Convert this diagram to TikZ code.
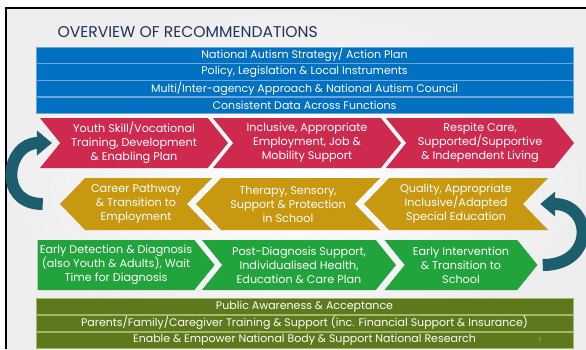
\documentclass[tikz,border=0pt]{standalone}
\usepackage{fontspec}
\setmainfont{Poppins}
\usetikzlibrary{shapes.symbols, positioning, arrows.meta}
\definecolor{BarBlue}{RGB}{0,112,192}
\definecolor{BarLine}{RGB}{110,165,220}
\definecolor{ChevRed}{RGB}{206,42,80}
\definecolor{ChevGold}{RGB}{200,152,16}
\definecolor{ChevGreen}{RGB}{34,164,60}
\definecolor{BarOlive}{RGB}{92,122,28}
\definecolor{OliveLine}{RGB}{160,185,110}
\definecolor{LoopTeal}{RGB}{28,94,110}
\definecolor{TitleBlue}{RGB}{34,50,90}
\definecolor{Paper}{RGB}{238,238,238}

\begin{document}
\begin{tikzpicture}[x=1pt, y=-1pt]
		\tikzstyle{Bar} = [rectangle, minimum width=537pt, minimum height=16.3pt, inner sep=0pt, text=white, font=\fontsize{11}{11}\selectfont]
		\tikzstyle{BlueBar} = [Bar, fill=BarBlue, draw=BarLine, line width=0.4pt]
		\tikzstyle{OliveBar} = [Bar, fill=BarOlive, draw=OliveLine, line width=0.4pt]
		\tikzstyle{Chev} = [signal, signal to=east, signal from=west, signal pointer angle=102, minimum height=50pt, inner sep=0pt, align=center, text=white, font=\fontsize{11.2}{14}\selectfont]
		\tikzstyle{BackChev} = [Chev, signal to=west, signal from=east, signal pointer angle=92, minimum height=52pt]
		\tikzstyle{Loop} = [line width=12pt, draw=LoopTeal, -{Triangle[width=24pt, length=15pt]}]
		
		% page
		\clip (0,0) rectangle (586,349);
		\fill[white] (0,0) rectangle (586,349);
		\shade[inner color=white, outer color=Paper] (6,8) rectangle (586,349);
		\draw[black, line width=1.5pt] (6,349) -- (6,8) -- (586,8);
		
		\node (title) [anchor=west, text=TitleBlue, font=\fontsize{15.6}{16}\selectfont] at (54,32) {OVERVIEW OF RECOMMENDATIONS};
		
		% top bars
		\node (b1) [BlueBar] at (304.5,55) {National Autism Strategy/ Action Plan};
		\node (b2) [BlueBar, below=0pt of b1] {Policy, Legislation \& Local Instruments};
		\node (b3) [BlueBar, below=0pt of b2] {Multi/Inter-agency Approach \& National Autism Council};
		\node (b4) [BlueBar, below=0pt of b3] {Consistent Data Across Functions};
		
		% red row
		\node (r1) [Chev, fill=ChevRed, minimum width=188pt] at (134,143) {Youth Skill/Vocational\\Training, Development\\\& Enabling Plan};
		\node (r2) [Chev, fill=ChevRed, minimum width=188pt] at (307,143) {Inclusive, Appropriate\\Employment, Job \&\\Mobility Support};
		\node (r3) [Chev, fill=ChevRed, minimum width=188pt] at (480,143) {Respite Care,\\Supported/Supportive\\\& Independent Living};
		
		% gold row
		\node (y1) [BackChev, fill=ChevGold, minimum width=152pt] at (136,204) {Career Pathway\\\& Transition to\\Employment};
		\node (y2) [BackChev, fill=ChevGold, minimum width=184pt] at (288,204) {Therapy, Sensory,\\Support \& Protection\\in School};
		\node (y3) [BackChev, fill=ChevGold, minimum width=184pt] at (456,204) {Quality, Appropriate\\Inclusive/Adapted\\Special Education};
		
		% green row
		\node (g1) [Chev, fill=ChevGreen, signal from=nowhere, minimum width=177pt] at (116,265) {Early Detection \& Diagnosis\\(also Youth \& Adults), Wait\\Time for Diagnosis};
		\node (g2) [Chev, fill=ChevGreen, minimum width=194pt] at (299,265) {Post-Diagnosis Support,\\Individualised Health,\\Education \& Care Plan};
		\node (g3) [Chev, fill=ChevGreen, minimum width=153pt] at (461,265) {Early Intervention\\\& Transition to\\School};
		
		% bottom bars
		\node (o1) [OliveBar] at (304.5,306.5) {Public Awareness \& Acceptance};
		\node (o2) [OliveBar, below=0pt of o1] {Parents/Family/Caregiver Training \& Support (inc. Financial Support \& Insurance)};
		\node (o3) [OliveBar, below=0pt of o2] {Enable \& Empower National Body \& Support National Research};
		\node (pg) [text=OliveLine, font=\fontsize{5}{5}\selectfont] at (540,340) {5};
		
		% loop arrows
		\draw[Loop] ([xshift=-17pt]y1.west) to[out=180, in=180, looseness=1.9] ([xshift=-8pt]r1.west);
		\draw[Loop] ([xshift=5pt]g3.east) to[out=0, in=0, looseness=2.2] ([xshift=17pt]y3.east);
\end{tikzpicture}
\end{document}
